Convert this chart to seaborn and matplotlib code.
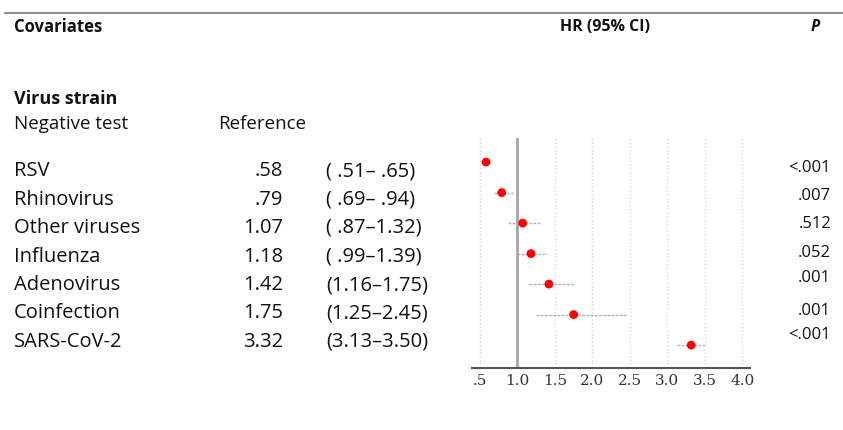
import pandas as pd
import seaborn as sns
import matplotlib.pyplot as plt

strains = ['RSV', 'Rhinovirus', 'Other viruses', 'Influenza', 'Adenovirus',
           'Coinfection', 'SARS-CoV-2']
hr = [0.58, 0.79, 1.07, 1.18, 1.42, 1.75, 3.32]
ci_low = [0.51, 0.69, 0.87, 0.99, 1.16, 1.25, 3.13]
ci_high = [0.65, 0.94, 1.32, 1.39, 1.75, 2.45, 3.50]
hr_text = ['.58', '.79', '1.07', '1.18', '1.42', '1.75', '3.32']
ci_text = ['( .51\u2013 .65)', '( .69\u2013 .94)', '( .87\u20131.32)',
           '( .99\u20131.39)', '(1.16\u20131.75)', '(1.25\u20132.45)',
           '(3.13\u20133.50)']
p_text = ['<.001', '.007', '.512', '.052', '.001', '.001', '<.001']
xticks = [0.5, 1.0, 1.5, 2.0, 2.5, 3.0, 3.5, 4.0]
xtick_labels = ['.5', '1.0', '1.5', '2.0', '2.5', '3.0', '3.5', '4.0']

W, H = 843, 430
sns.set_style('white')
plt.rcParams['font.family'] = ['Open Sans', 'DejaVu Sans']
ink = '#111111'

df = pd.DataFrame({'strain': strains, 'hr': hr, 'lo': ci_low, 'hi': ci_high,
                   'row': range(len(strains))})

fig = plt.figure(figsize=(W / 100, H / 100), dpi=100)


def px(x, y):
    # pixel position -> figure fraction
    return x / W, 1 - y / H


def put(x, y, s, **kw):
    fx, fy = px(x, y)
    fig.text(fx, fy, s, va='baseline', color=ink, **kw)


# header
fig.add_artist(plt.Line2D([5 / W, 1], [1 - 13 / H] * 2, color='#8c8c8c',
                          lw=1.5))
put(14, 32, 'Covariates', fontsize=12, fontweight='bold')
put(605, 31, 'HR (95% CI)', fontsize=11.5, fontweight='bold', ha='center')
put(815, 31, 'P', fontsize=11.5, fontweight='bold', style='italic',
    ha='center')

put(14, 104, 'Virus strain', fontsize=13, fontweight='bold')
put(14, 129, 'Negative test', fontsize=13.5)
put(218, 129, 'Reference', fontsize=13.5)

for i in range(len(strains)):
    y = 176 + 28.5 * i
    put(14, y, strains[i], fontsize=14.5)
    put(283, y, hr_text[i], fontsize=14.5, ha='right')
    put(326, y, ci_text[i], fontsize=14.5)

p_base = [172, 200, 228, 257, 282, 315, 339]
for i in range(len(p_text)):
    put(831, p_base[i], p_text[i], fontsize=12, ha='right')

# forest plot
l, b = px(472, 368)
r, t = px(750, 138)
ax = fig.add_axes([l, b, r - l, t - b])
for x in xticks:
    ax.axvline(x, color='#d9d9d9', lw=1, ls=':', zorder=0)
ax.axvline(1.0, color='#a6a6a6', lw=2, zorder=1)
ax.hlines(df['row'], df['lo'], df['hi'], color='#b0b0b0', lw=1,
          ls=(0, (2, 1)), zorder=2)
sns.scatterplot(data=df, x='hr', y='row', color='#ff0000', s=40,
                edgecolor='none', zorder=3, ax=ax)

ax.set_xlim(0.393, 4.105)
ax.set_ylim(6.75, -0.79)
ax.set_xticks(xticks)
ax.set_xticklabels(xtick_labels, fontsize=11, color='#333333',
                   family='DejaVu Serif')
ax.set_yticks([])
ax.set_xlabel('')
ax.set_ylabel('')
for s in ['top', 'right', 'left']:
    ax.spines[s].set_visible(False)
ax.spines['bottom'].set_color('#555555')
ax.spines['bottom'].set_linewidth(1.5)
ax.tick_params(axis='x', direction='in', length=6, width=1, color='#777777',
               pad=4)

fig.savefig('out.png', dpi=100)
